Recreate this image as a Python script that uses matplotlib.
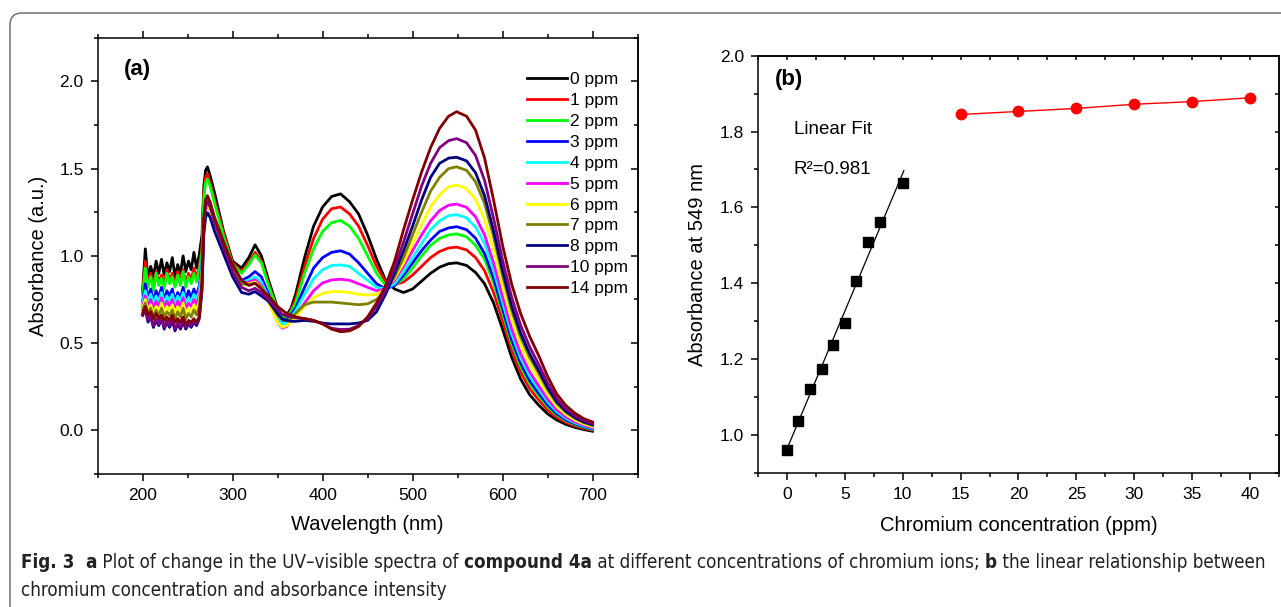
import numpy as np
import matplotlib.pyplot as plt
from matplotlib.patches import FancyBboxPatch
from matplotlib.ticker import MultipleLocator
from matplotlib import font_manager

# wavelength grid (nm) used for the spectra in panel (a)
wl = [200, 203, 206, 209, 212, 215, 218, 221, 224, 227, 230, 233, 236, 239, 242, 245, 248, 251, 254, 257, 260, 263,
      266, 268, 270, 272, 275, 280,
      290, 300, 310, 318, 325, 332, 340, 350, 355, 360, 365, 370,
      380, 390, 400, 410, 420, 430, 440, 450, 460, 470, 480, 490, 500, 510, 520, 530, 540,
      549,
      560, 570, 580, 590, 600, 610, 620, 630, 640, 650, 660, 670, 680, 690, 700]

a0 = [0.80, 1.04, 0.87, 0.94, 0.88, 0.97, 0.90, 0.98, 0.89, 0.96, 0.91, 0.99, 0.88, 0.95, 0.90, 1.00, 0.91, 0.97, 0.92, 1.02, 0.93, 1.01,
      1.12, 1.40, 1.49, 1.51, 1.46, 1.36,
      1.14, 0.97, 0.93, 0.99, 1.063, 1.00, 0.86, 0.70, 0.66, 0.66, 0.70, 0.78,
      0.99, 1.17, 1.28, 1.34, 1.355, 1.31, 1.24, 1.12, 0.98, 0.86, 0.81, 0.79, 0.81, 0.855, 0.90, 0.935, 0.955,
      0.96,
      0.945, 0.905, 0.84, 0.73, 0.58, 0.42, 0.295, 0.205, 0.145, 0.095, 0.06, 0.035, 0.018, 0.005, -0.005]
a1 = [0.79, 0.97, 0.84, 0.90, 0.83, 0.91, 0.85, 0.89, 0.84, 0.92, 0.86, 0.90, 0.83, 0.91, 0.85, 0.92, 0.84, 0.90, 0.86, 0.93, 0.87, 0.94,
      1.05, 1.36, 1.45, 1.47, 1.42, 1.32,
      1.13, 0.96, 0.91, 0.96, 1.02, 0.97, 0.84, 0.69, 0.655, 0.645, 0.69, 0.75,
      0.94, 1.10, 1.21, 1.27, 1.28, 1.24, 1.17, 1.06, 0.94, 0.85, 0.835, 0.85, 0.89, 0.94, 0.99, 1.025, 1.045,
      1.05,
      1.034, 0.99, 0.915, 0.79, 0.63, 0.465, 0.335, 0.24, 0.175, 0.117, 0.076, 0.046, 0.027, 0.012, 0.001]
a2 = [0.78, 0.93, 0.82, 0.88, 0.80, 0.90, 0.83, 0.87, 0.81, 0.90, 0.84, 0.88, 0.82, 0.89, 0.83, 0.91, 0.82, 0.88, 0.84, 0.90, 0.85, 0.92,
      1.02, 1.33, 1.42, 1.44, 1.40, 1.30,
      1.11, 0.95, 0.90, 0.95, 1.005, 0.96, 0.83, 0.69, 0.65, 0.64, 0.68, 0.73,
      0.90, 1.04, 1.14, 1.19, 1.203, 1.17, 1.10, 1.00, 0.90, 0.83, 0.83, 0.87, 0.93, 1.00, 1.06, 1.10, 1.12,
      1.126,
      1.109, 1.061, 0.98, 0.845, 0.672, 0.50, 0.368, 0.269, 0.20, 0.136, 0.089, 0.056, 0.034, 0.017, 0.005]
a3 = [0.74, 0.84, 0.76, 0.81, 0.74, 0.80, 0.76, 0.82, 0.75, 0.80, 0.77, 0.81, 0.74, 0.79, 0.76, 0.82, 0.75, 0.80, 0.76, 0.81, 0.77, 0.83,
      0.95, 1.20, 1.28, 1.29, 1.27, 1.20,
      1.06, 0.92, 0.86, 0.88, 0.91, 0.88, 0.78, 0.66, 0.63, 0.63, 0.665, 0.70,
      0.82, 0.93, 0.99, 1.02, 1.029, 1.01, 0.96, 0.90, 0.84, 0.81, 0.83, 0.89, 0.96, 1.03, 1.09, 1.14, 1.16,
      1.167,
      1.15, 1.101, 1.013, 0.872, 0.695, 0.52, 0.386, 0.285, 0.213, 0.147, 0.096, 0.061, 0.038, 0.02, 0.008]
a4 = [0.73, 0.80, 0.74, 0.78, 0.72, 0.77, 0.74, 0.79, 0.73, 0.77, 0.74, 0.78, 0.72, 0.77, 0.74, 0.79, 0.73, 0.76, 0.74, 0.78, 0.75, 0.80,
      0.93, 1.20, 1.28, 1.30, 1.27, 1.19,
      1.05, 0.91, 0.85, 0.86, 0.88, 0.85, 0.76, 0.64, 0.61, 0.615, 0.65, 0.685,
      0.78, 0.87, 0.92, 0.945, 0.948, 0.94, 0.90, 0.86, 0.82, 0.81, 0.84, 0.91, 0.99, 1.07, 1.15, 1.20, 1.23,
      1.236,
      1.218, 1.165, 1.07, 0.918, 0.733, 0.554, 0.415, 0.312, 0.236, 0.164, 0.108, 0.07, 0.044, 0.025, 0.012]
a5 = [0.71, 0.77, 0.71, 0.75, 0.69, 0.74, 0.71, 0.76, 0.70, 0.74, 0.71, 0.75, 0.69, 0.74, 0.71, 0.76, 0.70, 0.73, 0.71, 0.75, 0.72, 0.77,
      0.90, 1.19, 1.27, 1.29, 1.26, 1.18,
      1.04, 0.90, 0.84, 0.85, 0.862, 0.83, 0.74, 0.62, 0.585, 0.595, 0.625, 0.66,
      0.73, 0.80, 0.845, 0.862, 0.866, 0.86, 0.84, 0.82, 0.80, 0.81, 0.86, 0.94, 1.03, 1.12, 1.20, 1.26, 1.29,
      1.297,
      1.278, 1.223, 1.12, 0.96, 0.767, 0.584, 0.441, 0.336, 0.256, 0.179, 0.119, 0.078, 0.05, 0.03, 0.016]
a6 = [0.70, 0.75, 0.69, 0.72, 0.67, 0.71, 0.69, 0.73, 0.68, 0.71, 0.69, 0.72, 0.67, 0.71, 0.68, 0.73, 0.67, 0.70, 0.68, 0.72, 0.69, 0.74,
      0.88, 1.19, 1.28, 1.30, 1.26, 1.18,
      1.04, 0.90, 0.835, 0.84, 0.85, 0.82, 0.73, 0.62, 0.59, 0.60, 0.62, 0.65,
      0.71, 0.76, 0.785, 0.795, 0.795, 0.79, 0.78, 0.775, 0.78, 0.81, 0.87, 0.96, 1.07, 1.18, 1.28, 1.35, 1.395,
      1.406,
      1.385, 1.325, 1.21, 1.034, 0.827, 0.636, 0.488, 0.378, 0.292, 0.206, 0.137, 0.092, 0.06, 0.037, 0.022]
a7 = [0.69, 0.73, 0.67, 0.70, 0.65, 0.69, 0.66, 0.70, 0.65, 0.68, 0.66, 0.69, 0.64, 0.68, 0.65, 0.70, 0.64, 0.67, 0.65, 0.69, 0.66, 0.71,
      0.86, 1.20, 1.30, 1.33, 1.29, 1.20,
      1.06, 0.92, 0.84, 0.835, 0.843, 0.82, 0.74, 0.66, 0.635, 0.63, 0.64, 0.67,
      0.72, 0.735, 0.735, 0.735, 0.73, 0.725, 0.72, 0.725, 0.75, 0.80, 0.88, 0.99, 1.12, 1.25, 1.37, 1.45, 1.50,
      1.51,
      1.49, 1.424, 1.30, 1.11, 0.886, 0.688, 0.534, 0.418, 0.327, 0.232, 0.156, 0.105, 0.07, 0.045, 0.029]
a8 = [0.66, 0.69, 0.62, 0.65, 0.59, 0.63, 0.60, 0.64, 0.58, 0.62, 0.59, 0.63, 0.57, 0.61, 0.58, 0.62, 0.58, 0.61, 0.59, 0.62, 0.60, 0.64,
      0.80, 1.12, 1.22, 1.247, 1.22, 1.14,
      1.01, 0.88, 0.79, 0.78, 0.795, 0.77, 0.74, 0.67, 0.64, 0.63, 0.625, 0.625,
      0.63, 0.625, 0.615, 0.61, 0.61, 0.61, 0.615, 0.63, 0.68, 0.78, 0.90, 1.03, 1.17, 1.32, 1.45, 1.53, 1.56,
      1.565,
      1.544, 1.476, 1.345, 1.143, 0.916, 0.714, 0.558, 0.44, 0.345, 0.246, 0.165, 0.112, 0.075, 0.049, 0.032]
a10 = [0.66, 0.70, 0.63, 0.66, 0.60, 0.64, 0.61, 0.65, 0.59, 0.63, 0.60, 0.64, 0.58, 0.62, 0.59, 0.63, 0.59, 0.62, 0.60, 0.63, 0.61, 0.65,
       0.82, 1.18, 1.28, 1.31, 1.28, 1.19,
       1.05, 0.91, 0.82, 0.80, 0.814, 0.79, 0.75, 0.69, 0.665, 0.655, 0.65, 0.645,
       0.64, 0.63, 0.61, 0.585, 0.578, 0.58, 0.60, 0.64, 0.71, 0.80, 0.93, 1.08, 1.24, 1.40, 1.53, 1.62, 1.66,
       1.672,
       1.648, 1.575, 1.432, 1.215, 0.975, 0.765, 0.603, 0.48, 0.379, 0.272, 0.183, 0.125, 0.085, 0.057, 0.039]
a14 = [0.67, 0.71, 0.66, 0.68, 0.64, 0.67, 0.64, 0.66, 0.63, 0.65, 0.63, 0.66, 0.62, 0.64, 0.62, 0.65, 0.61, 0.63, 0.62, 0.64, 0.62, 0.65,
       0.85, 1.22, 1.32, 1.345, 1.31, 1.22,
       1.08, 0.95, 0.86, 0.83, 0.843, 0.81, 0.77, 0.71, 0.69, 0.67, 0.66, 0.65,
       0.64, 0.63, 0.61, 0.58, 0.565, 0.57, 0.595, 0.65, 0.73, 0.83, 0.97, 1.15, 1.32, 1.48, 1.62, 1.73, 1.80,
       1.826,
       1.80, 1.72, 1.56, 1.32, 1.06, 0.84, 0.67, 0.54, 0.43, 0.31, 0.21, 0.145, 0.10, 0.068, 0.048]

spectra = [a0, a1, a2, a3, a4, a5, a6, a7, a8, a10, a14]
labels = ["0 ppm", "1 ppm", "2 ppm", "3 ppm", "4 ppm", "5 ppm", "6 ppm", "7 ppm", "8 ppm", "10 ppm", "14 ppm"]
colors = ["#000000", "#ff0000", "#00ff00", "#0000ff", "#00ffff", "#ff00ff", "#ffff00",
          "#808000", "#000080", "#800080", "#800000"]

# panel (b): absorbance at 549 nm
conc_low = [0, 1, 2, 3, 4, 5, 6, 7, 8, 10]
abs_low = [0.961, 1.037, 1.122, 1.174, 1.237, 1.296, 1.406, 1.509, 1.562, 1.665]
conc_high = [15, 20, 25, 30, 35, 40]
abs_high = [1.845, 1.853, 1.861, 1.872, 1.879, 1.889]

plt.rcParams['font.family'] = ['Liberation Sans', 'DejaVu Sans']
plt.rcParams['axes.linewidth'] = 1.1

fig = plt.figure(figsize=(12.81, 6.07), dpi=100)

# rounded frame around the whole figure
frame = FancyBboxPatch((10, -60), 1400, 607 - 13 + 60, boxstyle="round,pad=0,rounding_size=12",
                       transform=None, fill=False, ec="#707070", lw=1.1)
fig.add_artist(frame)

# ---------- panel (a) ----------
ax = fig.add_axes([0.0762, 0.2191, 0.4215, 0.7188])
for y, c, lab in zip(spectra, colors, labels):
    ax.plot(wl, y, color=c, lw=2.0, label=lab)
ax.set_xlim(150, 750)
ax.set_ylim(-0.25, 2.25)
ax.xaxis.set_major_locator(MultipleLocator(100))
ax.xaxis.set_minor_locator(MultipleLocator(50))
ax.yaxis.set_major_locator(MultipleLocator(0.5))
ax.yaxis.set_minor_locator(MultipleLocator(0.25))
ax.yaxis.set_major_formatter(plt.FormatStrFormatter('%.1f'))
ax.tick_params(which='both', direction='out', top=True, labelsize=12.5, width=1.1, pad=5)
ax.tick_params(which='major', length=5)
ax.tick_params(which='minor', length=3)
sec = ax.secondary_yaxis('right')
sec.yaxis.set_major_locator(MultipleLocator(0.5))
sec.yaxis.set_minor_locator(MultipleLocator(0.25))
sec.tick_params(which='both', direction='in', labelright=False, width=1.1)
sec.tick_params(which='major', length=5)
sec.tick_params(which='minor', length=3)
ax.set_xlabel("Wavelength (nm)", fontsize=14.5, labelpad=9)
ax.set_ylabel("Absorbance (a.u.)", fontsize=14.5, labelpad=8)
ax.text(0.049, 0.926, "(a)", transform=ax.transAxes, fontsize=16, fontweight='bold', va='center')
ax.legend(loc='upper left', bbox_to_anchor=(0.795, 0.921), frameon=False, fontsize=12.5,
          handlelength=2.3, handletextpad=0.2, labelspacing=0.33, borderpad=0, borderaxespad=0)

# ---------- panel (b) ----------
ax2 = fig.add_axes([0.5917, 0.2212, 0.4067, 0.687])
slope, icept = np.polyfit(conc_low, abs_low, 1)
fit_x = np.array([conc_low[0], conc_low[-1] + 0.1])
ax2.plot(fit_x, slope * fit_x + icept, color='black', lw=0.9)
ax2.plot(conc_low, abs_low, 's', color='black', ms=7)
ax2.plot(conc_high, abs_high, 'o-', color='red', ms=7.5, lw=1)
ax2.set_xlim(-2.5, 42.5)
ax2.set_ylim(0.9, 2.0)
ax2.xaxis.set_major_locator(MultipleLocator(5))
ax2.xaxis.set_minor_locator(MultipleLocator(2.5))
ax2.yaxis.set_major_locator(MultipleLocator(0.2))
ax2.yaxis.set_minor_locator(MultipleLocator(0.1))
ax2.yaxis.set_major_formatter(plt.FormatStrFormatter('%.1f'))
ax2.tick_params(which='both', direction='out', labelsize=12.5, width=1.1, pad=5)
ax2.tick_params(which='major', length=5)
ax2.tick_params(which='minor', length=3)
s2 = ax2.secondary_xaxis('top')
s2.xaxis.set_major_locator(MultipleLocator(5))
s2.xaxis.set_minor_locator(MultipleLocator(2.5))
s2.tick_params(which='both', direction='in', labeltop=False, width=1.1, length=3)
s3 = ax2.secondary_yaxis('right')
s3.yaxis.set_major_locator(MultipleLocator(0.2))
s3.yaxis.set_minor_locator(MultipleLocator(0.1))
s3.tick_params(which='both', direction='in', labelright=False, width=1.1, length=3)
ax2.set_xlabel("Chromium concentration (ppm)", fontsize=14.5, labelpad=10)
ax2.set_ylabel("Absorbance at 549 nm", fontsize=14.5, labelpad=9)
ax2.text(0.033, 0.942, "(b)", transform=ax2.transAxes, fontsize=16, fontweight='bold', va='center')
ax2.text(0.069, 0.824, "Linear Fit", transform=ax2.transAxes, fontsize=13.5, va='center')
ax2.text(0.069, 0.728, "R\u00b2=0.981", transform=ax2.transAxes, fontsize=13.5, va='center')

# ---------- caption ----------
# look for a narrow/condensed face for the caption, else plain Liberation Sans
reg_file, bold_file = None, None
for f in font_manager.fontManager.ttflist:
    fn = f.fname.replace('-', '').replace('_', '')
    if 'LiberationSansNarrow' in fn or 'DejaVuSansCondensed' in fn:
        if 'Italic' in fn or 'Oblique' in fn:
            continue
        if 'Bold' in fn:
            if bold_file is None or 'Liberation' in fn:
                bold_file = f.fname
        elif reg_file is None or 'Liberation' in fn:
            reg_file = f.fname


def cap_props(weight, size):
    path = bold_file if weight == 'bold' else reg_file
    if path:
        return font_manager.FontProperties(fname=path, size=size)
    return font_manager.FontProperties(family='Liberation Sans', weight=weight, size=size)


line1 = [("Fig. 3", 'bold'), ("  ", 'normal'), ("a", 'bold'),
         (" Plot of change in the UV\u2013visible spectra of ", 'normal'), ("compound 4a", 'bold'),
         (" at different concentrations of chromium ions; ", 'normal'), ("b", 'bold'),
         (" the linear relationship between", 'normal')]
line2 = "chromium concentration and absorbance intensity"

renderer = fig.canvas.get_renderer()

# scale caption so the first line spans the same width as the reference
probe = [fig.text(0, 0, s, fontproperties=cap_props(w, 12)) for s, w in line1]
total = sum(p.get_window_extent(renderer).width for p in probe)
for p in probe:
    p.remove()
cap_size = 12 * (1246 / total)

x = 21
for s, w in line1:
    t = fig.text(x / 1281, 1 - 563 / 607, s, fontproperties=cap_props(w, cap_size),
                 va='center', color='#222222')
    x += t.get_window_extent(renderer).width
fig.text(21 / 1281, 1 - 591 / 607, line2, fontproperties=cap_props('normal', cap_size),
         va='center', color='#222222')

fig.savefig("out.png", dpi=100)
